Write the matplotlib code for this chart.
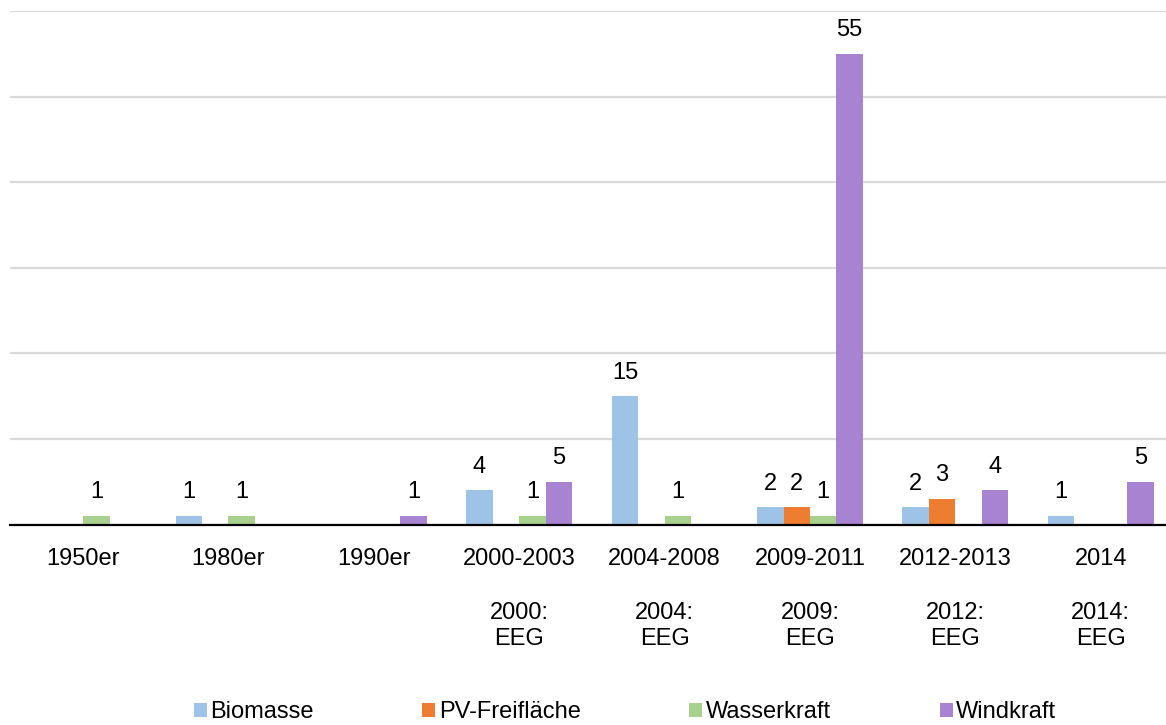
import numpy as np
import matplotlib.pyplot as plt
from matplotlib.patches import Patch
from matplotlib.transforms import blended_transform_factory

plt.rcParams['font.family'] = ['Liberation Sans', 'DejaVu Sans']

# Anlagen nach Inbetriebnahmezeitraum
perioden = ["1950er", "1980er", "1990er", "2000-2003", "2004-2008",
            "2009-2011", "2012-2013", "2014"]
eeg_labels = ["", "", "", "2000:\nEEG", "2004:\nEEG", "2009:\nEEG",
              "2012:\nEEG", "2014:\nEEG"]

biomasse = [0, 1, 0, 4, 15, 2, 2, 1]
pv_freiflaeche = [0, 0, 0, 0, 0, 2, 3, 0]
wasserkraft = [1, 1, 0, 1, 1, 1, 0, 0]
windkraft = [0, 0, 1, 5, 0, 55, 4, 5]

serien = [
    ("Biomasse", biomasse, "#9DC3E6"),
    ("PV-Freifläche", pv_freiflaeche, "#ED7D31"),
    ("Wasserkraft", wasserkraft, "#A9D18E"),
    ("Windkraft", windkraft, "#A883D1"),
]

fig = plt.figure(figsize=(11.66, 7.25), dpi=100)
ax = fig.add_axes([10.4 / 1166, 1 - 524.5 / 725, 1163 / 1166, 513.5 / 725])

x = np.arange(len(perioden))
w = 0.182
for i, (name, werte, farbe) in enumerate(serien):
    pos = x + (i - 1.5) * w
    ax.bar(pos, werte, width=w, color=farbe, zorder=3)
    for xp, v in zip(pos, werte):
        if v > 0:
            ax.annotate(str(v), (xp, v), xytext=(0, 9), textcoords="offset points",
                        ha="center", va="bottom", fontsize=17)

ax.set_xlim(-0.5, len(perioden) - 0.5)
ax.set_ylim(0, 60)
ax.set_yticks(np.arange(0, 61, 10))
ax.yaxis.grid(True, color="#D9D9D9", linewidth=1.6, zorder=0)
ax.tick_params(axis="y", left=False, labelleft=False)
ax.set_xticks(x)
ax.set_xticklabels(perioden, fontsize=17)
ax.tick_params(axis="x", length=0, pad=17)
for s in ["top", "right", "left"]:
    ax.spines[s].set_visible(False)
ax.spines["bottom"].set_color("black")
ax.spines["bottom"].set_linewidth(1.6)
ax.spines["bottom"].set_zorder(4)

trans = blended_transform_factory(ax.transData, ax.transAxes)
for xp, t in zip(x, eeg_labels):
    if t:
        ax.annotate(t, (xp, 0), xycoords=trans, xytext=(0, -73),
                    textcoords="offset points", ha="center", va="center",
                    fontsize=17, linespacing=1.2)

handles = [Patch(facecolor=c, label=n) for n, _, c in serien]
fig.legend(handles=handles, loc="center", bbox_to_anchor=(0.536, 13 / 725),
           ncol=4, frameon=False, fontsize=17, handlelength=0.55, handleheight=0.55,
           handletextpad=0.15, columnspacing=4.6)

fig.savefig("out.png", dpi=100)
